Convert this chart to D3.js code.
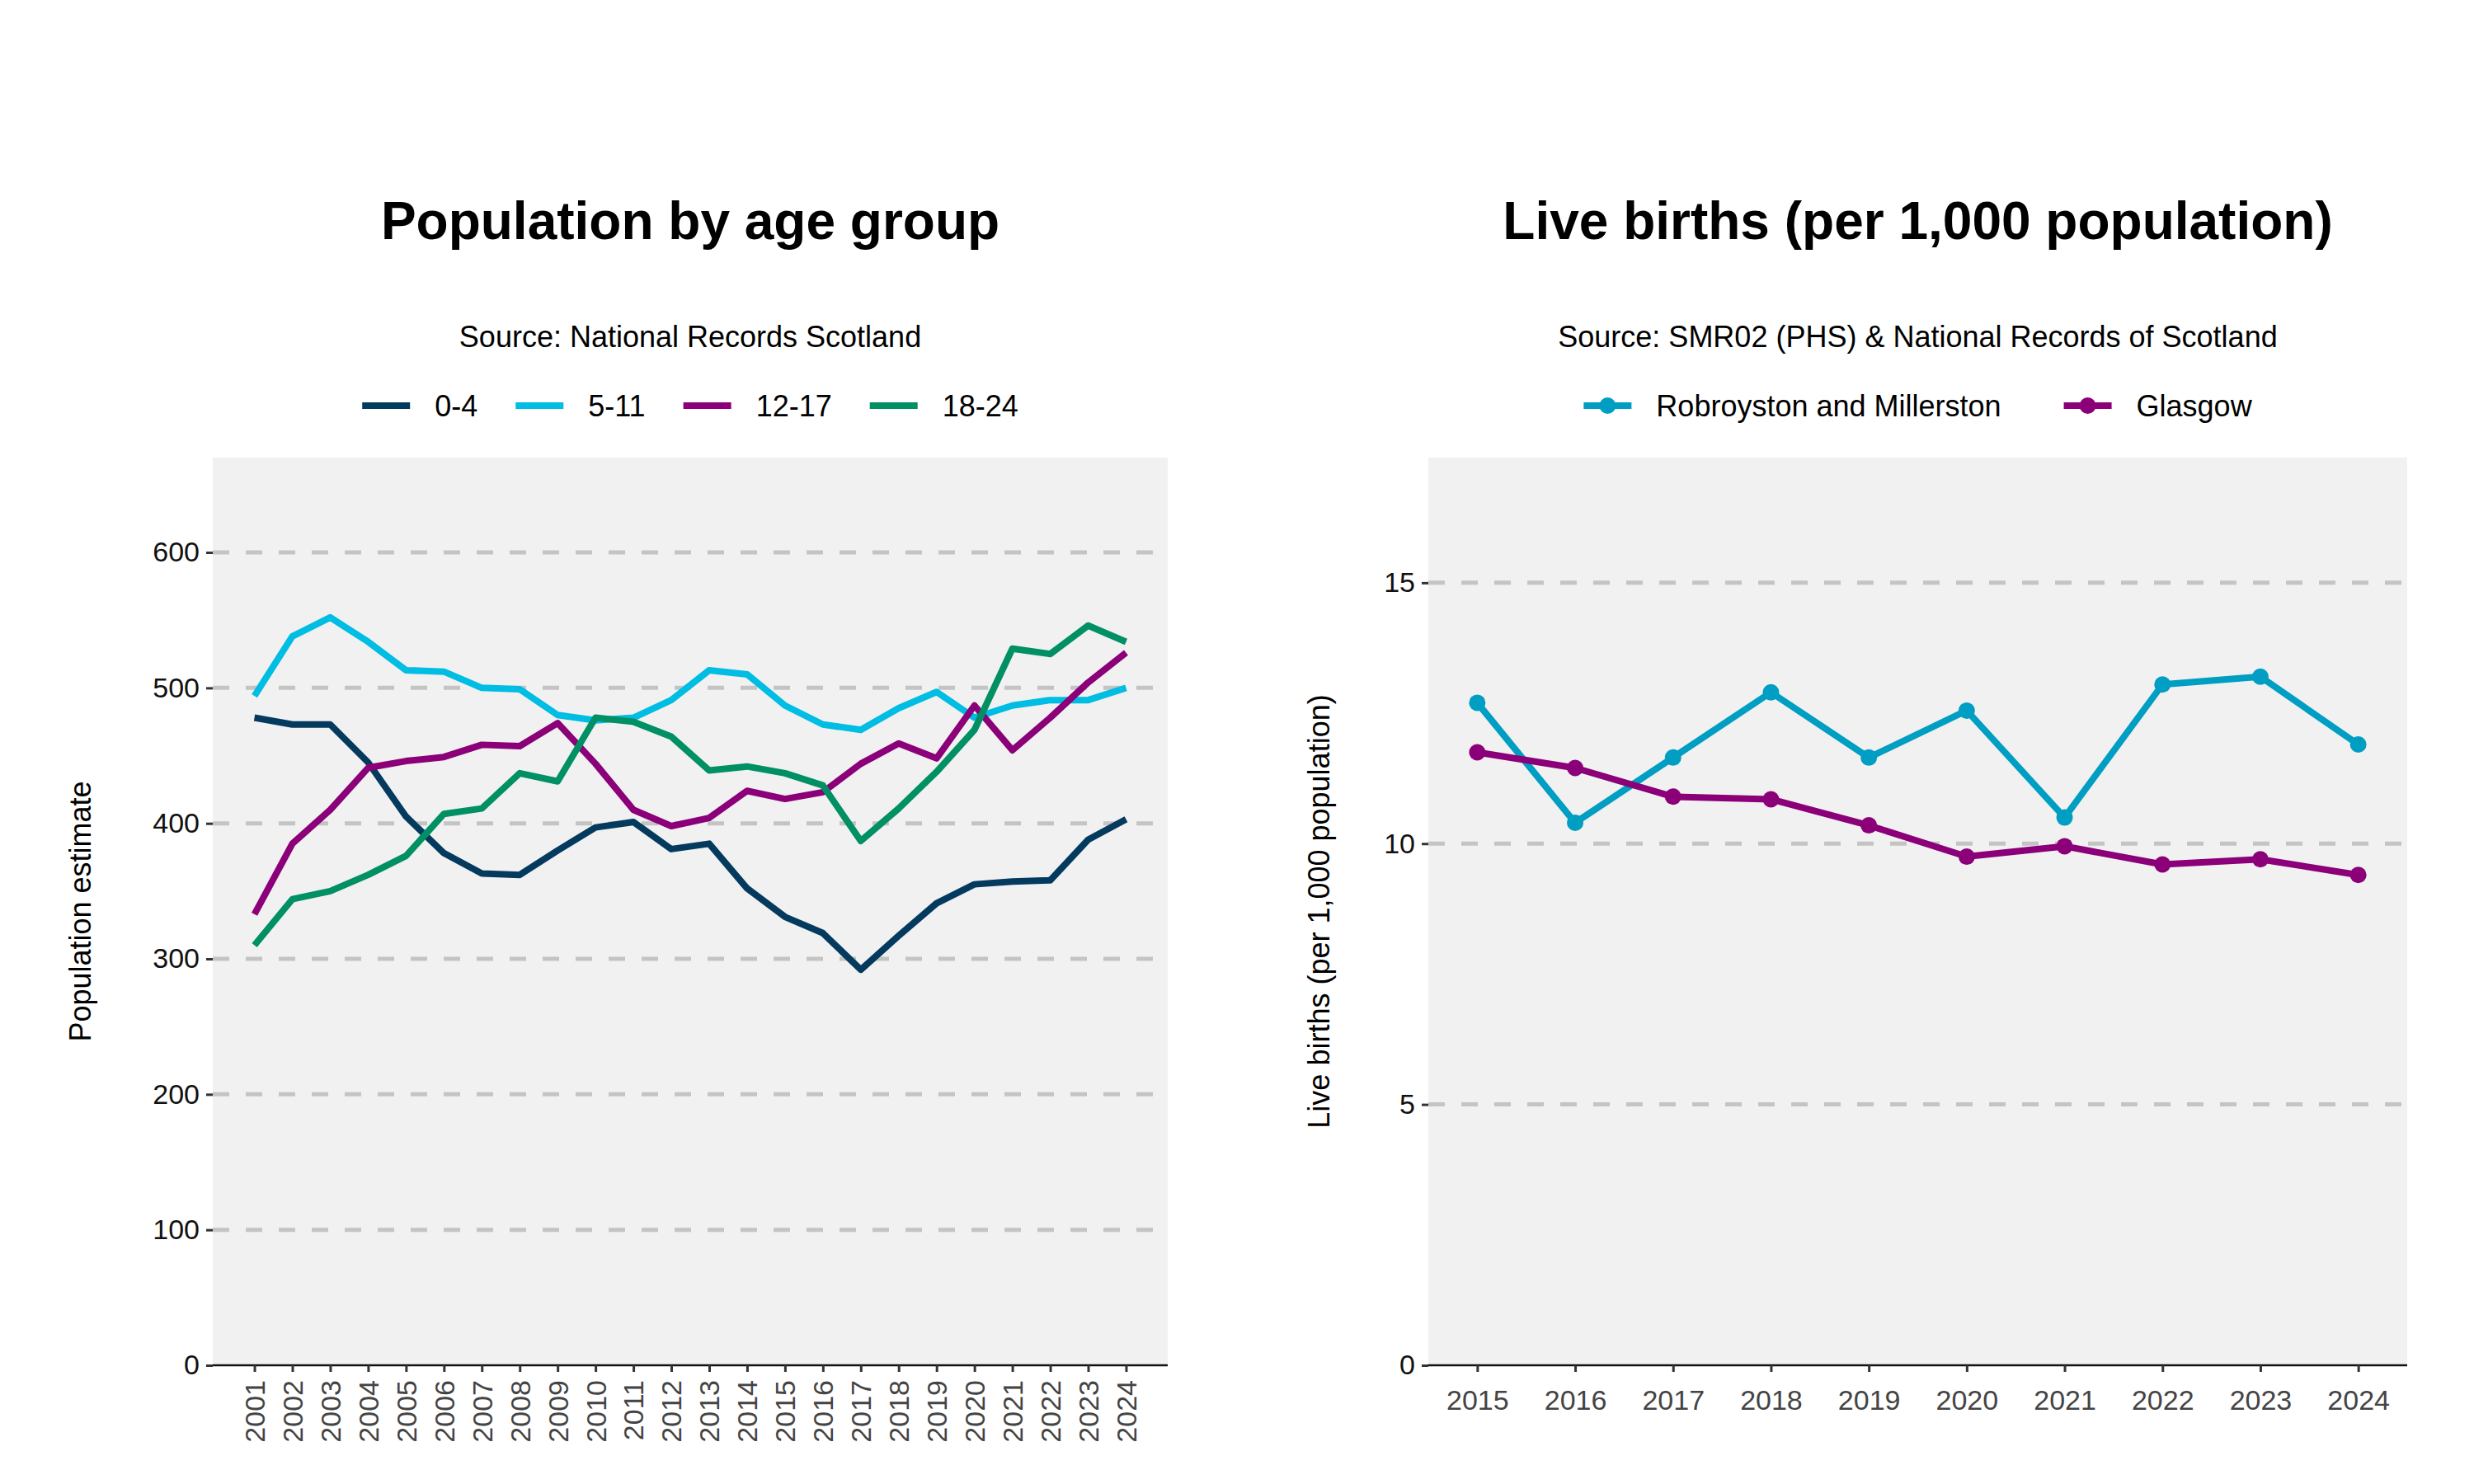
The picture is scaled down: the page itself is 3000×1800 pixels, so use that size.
<!DOCTYPE html>
<html><head><meta charset="utf-8">
<script src="https://cdn.jsdelivr.net/npm/d3@7/dist/d3.min.js"></script>
<style>body{margin:0;background:#fff}svg{font-family:"Liberation Sans",Arial,sans-serif}</style>
</head><body><svg id="c" width="3000" height="1800"></svg>
<script>
const years1 = d3.range(2001, 2025);
const age04 = [478,473,473,445,405,378,363,362,380,397,401,381,385,352,331,319,292,317,341,355,357,358,388,403];
const age511 = [494,538,552,534,513,512,500,499,480,476,478,491,513,510,487,473,469,485,497,478,487,491,491,500];
const age1217 = [333,385,410,441,446,449,458,457,474,444,410,398,404,424,418,423,444,459,448,487,454,478,504,526];
const age1824 = [310,344,350,362,376,407,411,437,431,478,475,464,439,442,437,428,387,411,438,469,529,525,546,534];
const seriesNames1 = ["0-4","5-11","12-17","18-24"];
const colors1 = ["#053a5f","#00bde3","#8b0079","#009064"];
const yTicks1 = [0,100,200,300,400,500,600];

const years2 = d3.range(2015, 2025);
const robroyston = [12.7,10.4,11.65,12.9,11.65,12.55,10.5,13.05,13.2,11.9];
const glasgow = [11.75,11.45,10.9,10.85,10.35,9.75,9.95,9.6,9.7,9.4];
const seriesNames2 = ["Robroyston and Millerston","Glasgow"];
const colors2 = ["#009ec2","#8b0079"];
const yTicks2 = [0,5,10,15];

const svg = d3.select("#c");

function panel(o){
  const g = svg.append("g");
  g.append("rect").attr("x",o.x0).attr("y",o.y0).attr("width",o.x1-o.x0).attr("height",o.y1-o.y0).attr("fill","#f1f1f1");
  const x = d3.scalePoint().domain(o.years).range([o.x0,o.x1]).padding(o.pad);
  const y = d3.scaleLinear().domain([0,o.ymax]).range([o.y1,o.y0]);
  g.selectAll(".grid").data(o.yTicks.filter(v=>v>0)).join("line")
    .attr("x1",o.x0).attr("x2",o.x1).attr("y1",d=>y(d)).attr("y2",d=>y(d))
    .attr("stroke","#c4c4c4").attr("stroke-width",5).attr("stroke-dasharray","20,20");
  const ya = g.append("g").attr("transform",`translate(${o.x0},0)`)
    .call(d3.axisLeft(y).tickValues(o.yTicks).tickSize(8).tickPadding(8));
  ya.select(".domain").remove();
  ya.selectAll("line").attr("stroke","#333").attr("stroke-width",3);
  ya.selectAll("text").attr("font-size",34).attr("fill","#111").attr("font-family","Liberation Sans, Arial");
  const xa = g.append("g").attr("transform",`translate(0,${o.y1})`)
    .call(d3.axisBottom(x).tickSize(8).tickPadding(o.rot?10:22));
  xa.select(".domain").attr("d",`M${o.x0},0H${o.x1}`).attr("stroke","#111").attr("stroke-width",2.5);
  xa.selectAll("line").attr("stroke","#333").attr("stroke-width",3);
  xa.selectAll("text").attr("font-size",34).attr("fill","#444").attr("font-family","Liberation Sans, Arial");
  if(o.rot){
    xa.selectAll("text").attr("transform","rotate(-90)").attr("text-anchor","end").attr("dy","0.35em").attr("dx","-18").attr("x",0).attr("y",0);
  }
  const line = d3.line().x((d,i)=>x(o.years[i])).y(d=>y(d));
  o.series.forEach((s,k)=>{
    g.append("path").attr("d",line(s)).attr("fill","none").attr("stroke",o.colors[k]).attr("stroke-width",8).attr("stroke-linejoin","round");
    if(o.dots) g.selectAll(null).data(s).join("circle").attr("cx",(d,i)=>x(o.years[i])).attr("cy",d=>y(d)).attr("r",10).attr("fill",o.colors[k]);
  });
  const cx=(o.x0+o.x1)/2;
  g.append("text").attr("x",cx).attr("y",290).attr("text-anchor","middle").attr("font-size",64).attr("font-weight","bold").text(o.title);
  g.append("text").attr("x",cx).attr("y",421).attr("text-anchor","middle").attr("font-size",36).text(o.source);
  g.append("text").attr("transform",`translate(${o.ytx},${(o.y0+o.y1)/2}) rotate(-90)`).attr("text-anchor","middle").attr("font-size",36).text(o.ytitle);
  const lg = g.append("g");
  let xx=0;
  o.names.forEach((n,k)=>{
    const it = lg.append("g").attr("transform",`translate(${xx},0)`);
    it.append("line").attr("x1",0).attr("x2",58).attr("stroke",o.colors[k]).attr("stroke-width",8);
    if(o.dots) it.append("circle").attr("cx",29).attr("r",10).attr("fill",o.colors[k]);
    const t = it.append("text").attr("x",88).attr("dy","0.35em").attr("font-size",36).text(n);
    xx += 88 + t.node().getComputedTextLength() + o.gap;
  });
  const w = xx - o.gap;
  lg.attr("transform",`translate(${cx - w/2},492)`);
}

panel({x0:258,x1:1416,y0:555,y1:1656,years:years1,pad:1.1,ymax:670,yTicks:yTicks1,rot:true,
  series:[age04,age511,age1217,age1824],colors:colors1,names:seriesNames1,dots:false,gap:46,
  title:"Population by age group",source:"Source: National Records Scotland",ytitle:"Population estimate",ytx:110});
panel({x0:1732,x1:2919,y0:555,y1:1656,years:years2,pad:0.5,ymax:17.4,yTicks:yTicks2,rot:false,
  series:[robroyston,glasgow],colors:colors2,names:seriesNames2,dots:true,gap:76,
  title:"Live births (per 1,000 population)",source:"Source: SMR02 (PHS) & National Records of Scotland",ytitle:"Live births (per 1,000 population)",ytx:1612});
</script></body></html>
